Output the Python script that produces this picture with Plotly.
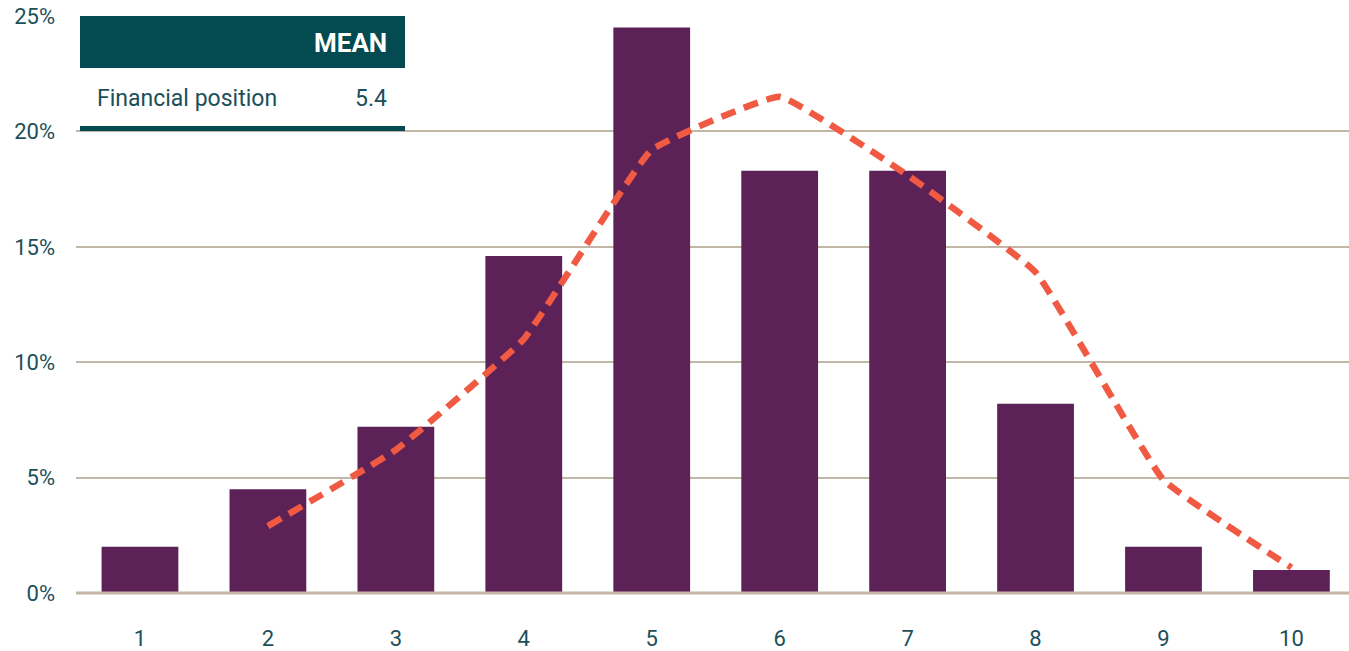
import plotly.graph_objects as go

categories = [1, 2, 3, 4, 5, 6, 7, 8, 9, 10]
share_pct = [2.0, 4.5, 7.2, 14.6, 24.5, 18.3, 18.3, 8.2, 2.0, 1.0]
curve_pct = [None, 2.9, 6.2, 11.0, 19.2, 21.5, 18.1, 13.9, 4.9, 1.1]
y_ticks = [0, 5, 10, 15, 20, 25]
y_tick_labels = ["0%", "5%", "10%", "15%", "20%", "25%"]
table_header = "MEAN"
table_rows = ["Financial position"]
table_values = ["5.4"]

TEXT = "#1b4f5a"
GRID = "#c4b6a6"
BAR = "#5c2157"
LINE = "#f15a42"
HEAD = "#044a51"
FONT = "Roboto, Inter, sans-serif"

W, H = 1349, 651
L, R, T, B = 76, 0, 16, 58
pw, ph = W - L - R, H - T - B

def px(x):
    return (x - L) / pw

def py(y):
    return (H - B - y) / ph

fig = go.Figure()
fig.add_trace(go.Bar(x=categories, y=share_pct, marker=dict(color=BAR, line=dict(width=0)),
                     width=0.6, hoverinfo="skip"))
fig.add_trace(go.Scatter(x=categories, y=curve_pct, mode="lines",
                         line=dict(color=LINE, width=6.5, dash="15px,9px", shape="spline", smoothing=0.3),
                         connectgaps=False, hoverinfo="skip"))

fig.update_layout(
    width=W, height=H,
    margin=dict(l=L, r=R, t=T, b=B, pad=0),
    paper_bgcolor="white", plot_bgcolor="white",
    showlegend=False, bargap=0.4,
    font=dict(family=FONT, color=TEXT, size=22),
    xaxis=dict(range=[0.5, 10.45], tickmode="array", tickvals=categories,
               ticktext=[str(c) for c in categories], showgrid=False, zeroline=False,
               showline=False, ticks="", ticklabelstandoff=30,
               tickfont=dict(family=FONT, color=TEXT, size=22)),
    yaxis=dict(range=[0, 25], tickmode="array", tickvals=y_ticks, ticktext=y_tick_labels,
               showgrid=True, gridcolor=GRID, gridwidth=2, zeroline=False, showline=False,
               ticks="", ticklabelstandoff=20,
               tickfont=dict(family=FONT, color=TEXT, size=22)),
    shapes=[
        dict(type="line", xref="paper", yref="paper", x0=0, x1=1, y0=0, y1=0,
             line=dict(color=GRID, width=3), layer="above"),
        dict(type="rect", xref="paper", yref="paper", x0=px(80), x1=px(405), y0=py(68), y1=py(16),
             fillcolor=HEAD, line=dict(width=0), layer="above"),
        dict(type="rect", xref="paper", yref="paper", x0=px(80), x1=px(405), y0=py(131), y1=py(126),
             fillcolor=HEAD, line=dict(width=0), layer="above"),
    ],
    annotations=[
        dict(xref="paper", yref="paper", x=px(389), y=py(43), xanchor="right", yanchor="middle",
             text="<b>" + table_header + "</b>", showarrow=False,
             font=dict(family=FONT, color="white", size=26)),
        dict(xref="paper", yref="paper", x=px(95), y=py(98), xanchor="left", yanchor="middle",
             text=table_rows[0], showarrow=False, font=dict(family=FONT, color=TEXT, size=23)),
        dict(xref="paper", yref="paper", x=px(389), y=py(98), xanchor="right", yanchor="middle",
             text=table_values[0], showarrow=False, font=dict(family=FONT, color=TEXT, size=23)),
    ],
)

fig.write_html("out.html")
